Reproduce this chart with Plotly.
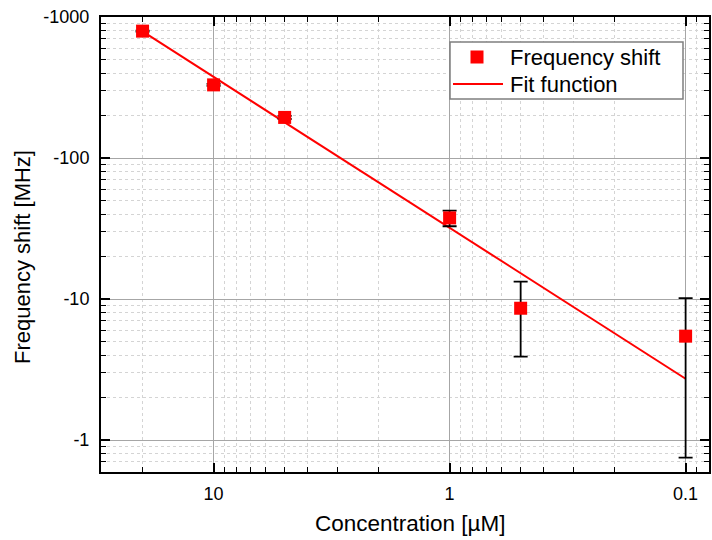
import math
import plotly.graph_objects as go

# Measured frequency shift (magnitudes; the shift itself is negative)
conc = [20, 10, 5, 1, 0.5, 0.1]                 # concentration [µM]
shift = [794, 330, 194, 37.6, 8.6, 5.45]        # |frequency shift| [MHz]
shift_err = [5, 5, 5, 4.8, 4.7, 4.7]            # uncertainty [MHz]

# Power-law fit (straight line on log-log axes), evaluated at its ends
fit_conc = [20, 0.1]
fit_shift = [790, 2.72]

x_ticks = [10, 1, 0.1]
x_labels = ["10", "1", "0.1"]
y_ticks = [1000, 100, 10, 1]
y_labels = ["-1000", "-100", "-10", "-1"]

x_title = "Concentration [µM]"
y_title = "Frequency shift [MHz]"
legend_labels = ["Frequency shift", "Fit function"]

FONT = "Liberation Sans, Arial, sans-serif"
RED = "#ff0000"

W, H = 712, 540
ML, MR, MT, MB = 101, 3, 17, 68
PW, PH = W - ML - MR, H - MT - MB


def px_x(px):
    """Pixel column -> paper x."""
    return (px - ML) / PW


def px_y(py):
    """Pixel row (from top) -> paper y."""
    return (H - MB - py) / PH


fig = go.Figure()

fig.add_trace(go.Scatter(
    x=fit_conc, y=fit_shift, mode="lines", name=legend_labels[1],
    line=dict(color=RED, width=2), showlegend=False,
))

fig.add_trace(go.Scatter(
    x=conc, y=shift, mode="markers", name=legend_labels[0],
    marker=dict(symbol="square", size=13, color=RED, line=dict(width=0)),
    error_y=dict(type="data", array=shift_err, visible=True,
                 color="black", thickness=1.8, width=7),
    showlegend=False,
))

axis_common = dict(
    type="log",
    ticks="inside", ticklen=9, tickwidth=1.5, tickcolor="black",
    showline=True, linewidth=2, linecolor="black", mirror="ticks",
    showgrid=True, gridcolor="#a6a6a6", gridwidth=1,
    zeroline=False,
    tickfont=dict(family=FONT, size=18, color="black"),
    minor=dict(ticks="inside", ticklen=5, tickwidth=1.2, tickcolor="black",
               showgrid=True, gridcolor="#d4d4d4", griddash="dot",
               gridwidth=1, dtick="D1"),
)

fig.update_xaxes(
    **axis_common,
    range=[math.log10(30), math.log10(0.0796)],
    tickmode="array", tickvals=x_ticks, ticktext=x_labels,
    ticklabelstandoff=4,
)
fig.update_yaxes(
    **axis_common,
    range=[math.log10(0.593), 3.0],
    tickmode="array", tickvals=y_ticks, ticktext=y_labels,
    ticklabelstandoff=6,
)

# Legend box with its two entries
box = dict(x0=px_x(450), x1=px_x(683), y0=px_y(99), y1=px_y(42))
row_y = [px_y(57), px_y(84)]
shapes = [
    dict(type="rect", xref="paper", yref="paper", **box,
         line=dict(color="#7f7f7f", width=1.5), fillcolor="white", layer="above"),
    dict(type="rect", xref="paper", yref="paper",
         xsizemode="pixel", ysizemode="pixel",
         xanchor=px_x(477), yanchor=row_y[0],
         x0=-6.5, x1=6.5, y0=-6.5, y1=6.5,
         line=dict(width=0), fillcolor=RED, layer="above"),
    dict(type="line", xref="paper", yref="paper",
         x0=px_x(453), x1=px_x(503), y0=row_y[1], y1=row_y[1],
         line=dict(color=RED, width=2), layer="above"),
]
annotations = [
    dict(xref="paper", yref="paper", x=px_x(508), y=ry, text=label,
         xanchor="left", yanchor="middle", showarrow=False,
         font=dict(family=FONT, size=22, color="black"))
    for label, ry in zip(legend_labels, row_y)
]

# Axis titles
annotations += [
    dict(xref="paper", yref="paper", x=px_x(410), y=px_y(523), text=x_title,
         xanchor="center", yanchor="middle", showarrow=False,
         font=dict(family=FONT, size=22.5, color="black")),
    dict(xref="paper", yref="paper", x=px_x(22), y=px_y(257), text=y_title,
         xanchor="center", yanchor="middle", showarrow=False, textangle=-90,
         font=dict(family=FONT, size=22, color="black")),
]

fig.update_layout(
    width=W, height=H,
    margin=dict(l=ML, r=MR, t=MT, b=MB, autoexpand=False),
    paper_bgcolor="white", plot_bgcolor="white",
    showlegend=False,
    shapes=shapes,
    annotations=annotations,
)

fig.write_html("out.html")
